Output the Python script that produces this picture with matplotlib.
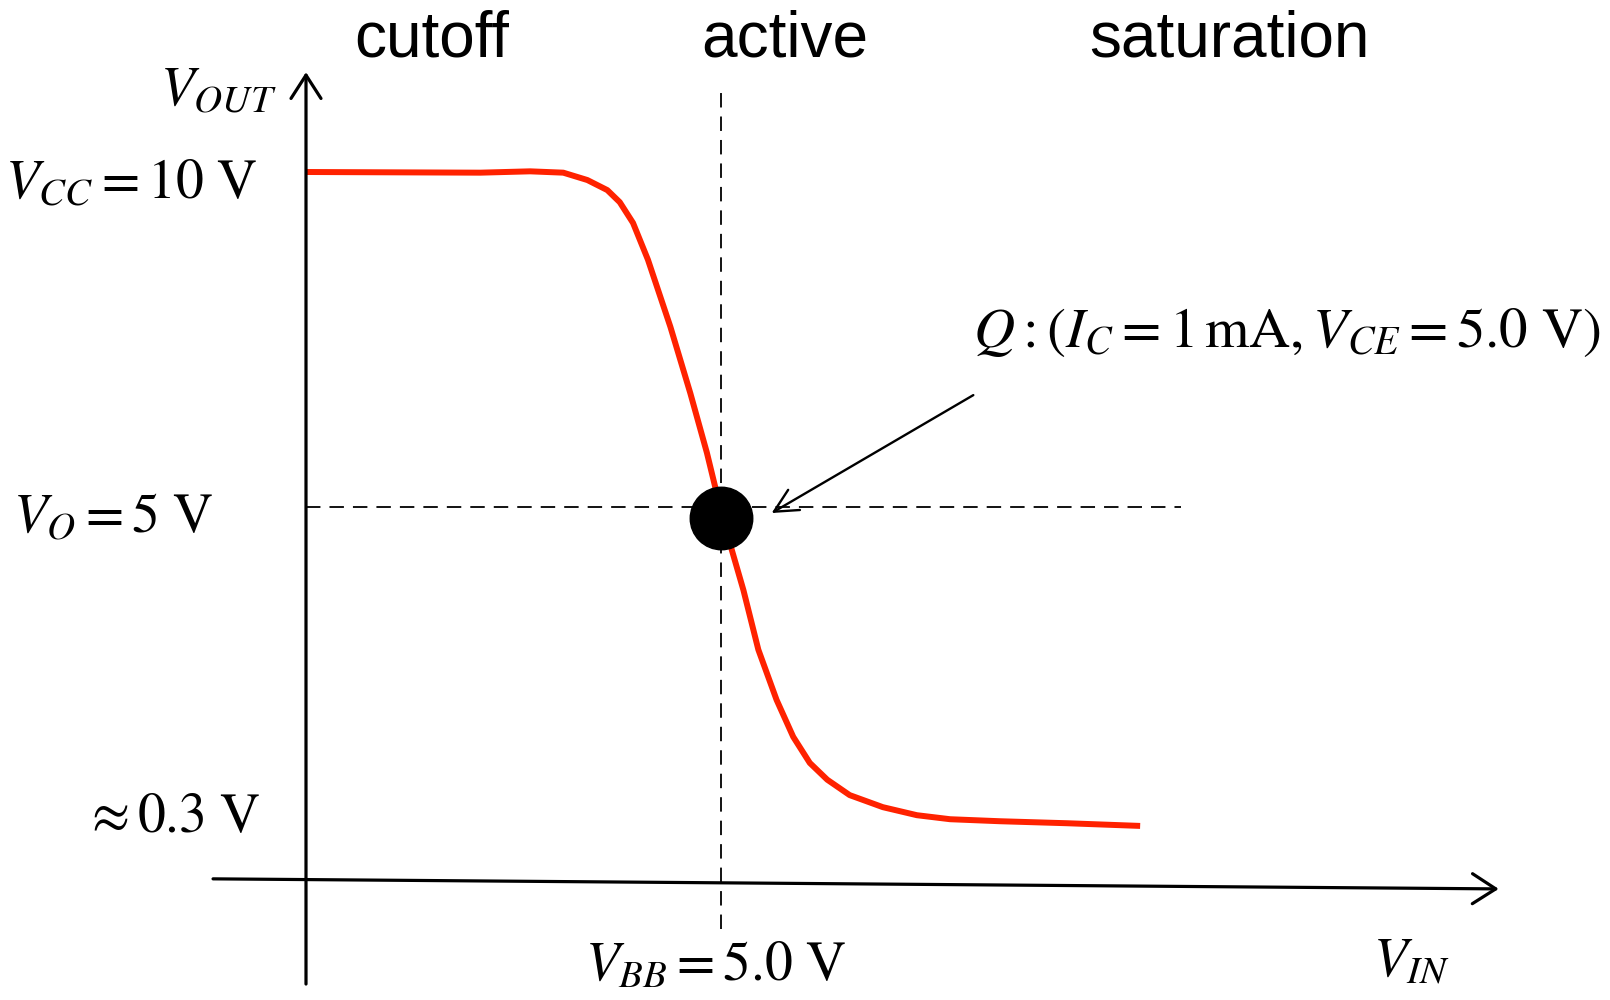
import matplotlib
matplotlib.use("Agg")
import matplotlib.pyplot as plt

plt.rcParams['mathtext.fontset'] = 'stix'
plt.rcParams['font.family'] = ['Liberation Sans', 'DejaVu Sans']

# transfer curve, V_IN (V) vs V_OUT (V)
vin = [0.00, 2.10, 2.70, 3.10, 3.39, 3.63, 3.78, 3.94, 4.12, 4.39,
       4.63, 4.83, 4.93, 5.13, 5.27, 5.45, 5.67, 5.87, 6.07, 6.28, 6.55,
       6.95, 7.36, 7.76, 8.36, 9.17, 10.05]
vout = [10.00, 9.99, 10.01, 9.99, 9.88, 9.73, 9.55, 9.24, 8.69, 7.69,
        6.70, 5.81, 5.30, 4.36, 3.76, 2.87, 2.12, 1.57, 1.18, 0.93, 0.70,
        0.52, 0.40, 0.34, 0.31, 0.28, 0.24]

q_vin, q_vout = 5.0, 4.84      # operating point
v_bb, v_o = 5.0, 5.0           # dashed guide lines

regions = ['cutoff', 'active', 'saturation']
region_x = [1.51, 5.77, 11.12]

# page layout: pixels per volt and origin position
X0, SX = 306, 83
Y0, SY = 842, 67

fig = plt.figure(figsize=(16.1, 10), dpi=100)
ax = fig.add_axes([0, 0, 1, 1])
ax.set_xlim(-X0 / SX, (1610 - X0) / SX)
ax.set_ylim((Y0 - 1000) / SY, Y0 / SY)
ax.axis('off')

# axes with open arrow heads
arrow = dict(arrowstyle='->,head_length=1.4,head_width=0.9', lw=2.3,
             color='black', mutation_scale=12, shrinkA=0, shrinkB=0)
ax.annotate('', xy=(0, 11.49), xytext=(0, -2.12), arrowprops=arrow)
ax.annotate('', xy=(14.37, -0.70), xytext=(-1.12, -0.55), arrowprops=arrow)

# dashed guides
ax.plot([0, 10.54], [v_o, v_o], color='black', lw=1.3, ls=(0, (8, 5)))
ax.plot([v_bb, v_bb], [-1.30, 11.27], color='black', lw=1.3, ls=(0, (8, 5)))

# curve and Q point
ax.plot(vin, vout, color='#ff2200', lw=4.3, solid_joinstyle='round',
        solid_capstyle='butt')
ax.plot([q_vin], [q_vout], 'o', color='black', ms=45, zorder=5)

ax.annotate('', xy=(5.61, 4.91), xytext=(8.04, 6.67),
            arrowprops=dict(arrowstyle='->,head_length=1.2,head_width=0.6',
                            lw=1.7, color='black', mutation_scale=14,
                            shrinkA=0, shrinkB=0))

for name, x in zip(regions, region_x):
    ax.text(x, 11.72, name, fontsize=46, ha='center', va='baseline')

fs = 40
ax.text(-1.76, 11.0, r'$V_{OUT}$', fontsize=fs, ha='left', va='baseline')
ax.text(-0.59, 9.61, r'$V_{CC}=10\ \mathrm{V}$', fontsize=fs, ha='right', va='baseline')
ax.text(-3.53, 4.63, r'$V_{O}=5\ \mathrm{V}$', fontsize=fs, ha='left', va='baseline')
ax.text(-0.55, 0.15, r'$\approx 0.3\ \mathrm{V}$', fontsize=fs, ha='right', va='baseline')
ax.text(4.93, -2.07, r'$V_{BB}=5.0\ \mathrm{V}$', fontsize=fs, ha='center', va='baseline')
ax.text(12.85, -2.0, r'$V_{IN}$', fontsize=fs, ha='left', va='baseline')
ax.text(8.04, 7.39,
        r'$Q:\left(I_C=1\,\mathrm{mA},V_{CE}=5.0\ \mathrm{V}\right)$',
        fontsize=41, ha='left', va='baseline')

fig.savefig('out.png', dpi=100)
